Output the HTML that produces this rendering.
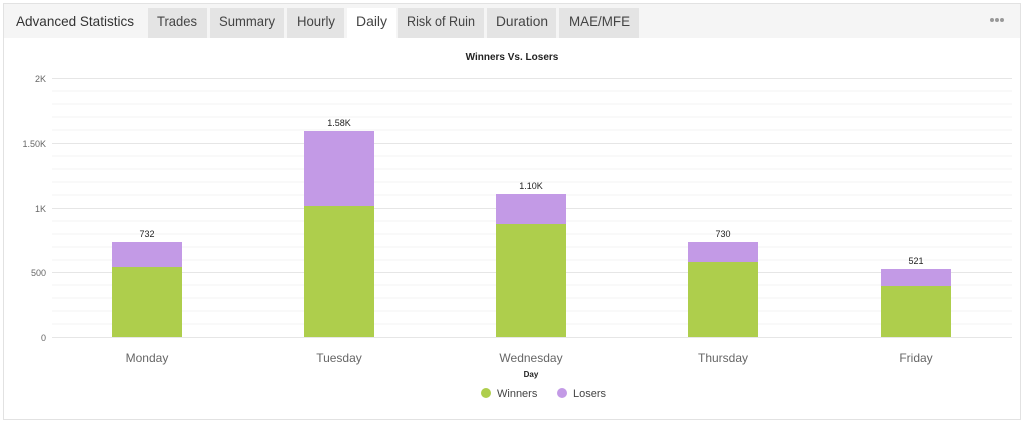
<!DOCTYPE html>
<html><head><style>
body{margin:0;background:#fff;width:1024px;height:423px;overflow:hidden;font-family:"Liberation Sans",sans-serif}
</style></head><body>
<svg width="1024" height="423" xmlns="http://www.w3.org/2000/svg" font-family="Liberation Sans, sans-serif">
<rect x="3.5" y="3.5" width="1017" height="416" fill="#fff" stroke="#e2e2e2"/>
<rect x="4" y="4" width="1016" height="34" fill="#f5f5f5"/>
<text x="16" y="26" font-size="14" fill="#333" textLength="118" lengthAdjust="spacingAndGlyphs">Advanced Statistics</text>
<g font-size="14" fill="#444">
<rect x="148" y="8" width="59" height="30" fill="#e4e4e4"/><text x="157" y="26" textLength="40" lengthAdjust="spacingAndGlyphs">Trades</text>
<rect x="210" y="8" width="74" height="30" fill="#e4e4e4"/><text x="219" y="26" textLength="56" lengthAdjust="spacingAndGlyphs">Summary</text>
<rect x="287" y="8" width="57" height="30" fill="#e4e4e4"/><text x="297" y="26" textLength="38" lengthAdjust="spacingAndGlyphs">Hourly</text>
<rect x="347" y="8" width="49" height="31" fill="#fff"/><text x="356" y="26" textLength="31" lengthAdjust="spacingAndGlyphs">Daily</text>
<rect x="398" y="8" width="86" height="30" fill="#e4e4e4"/><text x="407" y="26" textLength="68" lengthAdjust="spacingAndGlyphs">Risk of Ruin</text>
<rect x="487" y="8" width="69" height="30" fill="#e4e4e4"/><text x="496" y="26" textLength="52" lengthAdjust="spacingAndGlyphs">Duration</text>
<rect x="559" y="8" width="80" height="30" fill="#e4e4e4"/><text x="569" y="26" textLength="61" lengthAdjust="spacingAndGlyphs">MAE/MFE</text>
</g>
<g fill="#999"><circle cx="992" cy="20" r="2"/><circle cx="997" cy="20" r="2"/><circle cx="1002" cy="20" r="2"/></g>
<text x="512" y="60" font-size="10" font-weight="bold" text-anchor="middle" fill="#222">Winners Vs. Losers</text>
<g stroke="#f3f3f3" stroke-width="1">
<line x1="52" x2="1012" y1="91" y2="91"/><line x1="52" x2="1012" y1="104" y2="104"/><line x1="52" x2="1012" y1="117" y2="117"/><line x1="52" x2="1012" y1="130" y2="130"/>
<line x1="52" x2="1012" y1="156" y2="156"/><line x1="52" x2="1012" y1="169" y2="169"/><line x1="52" x2="1012" y1="182" y2="182"/><line x1="52" x2="1012" y1="195" y2="195"/>
<line x1="52" x2="1012" y1="221" y2="221"/><line x1="52" x2="1012" y1="234" y2="234"/><line x1="52" x2="1012" y1="247" y2="247"/><line x1="52" x2="1012" y1="260" y2="260"/>
<line x1="52" x2="1012" y1="285" y2="285"/><line x1="52" x2="1012" y1="298" y2="298"/><line x1="52" x2="1012" y1="311" y2="311"/><line x1="52" x2="1012" y1="324" y2="324"/>
</g>
<g stroke="#e6e6e6" stroke-width="1">
<line x1="52" x2="1012" y1="78.5" y2="78.5"/><line x1="52" x2="1012" y1="143.5" y2="143.5"/><line x1="52" x2="1012" y1="208.5" y2="208.5"/><line x1="52" x2="1012" y1="272.5" y2="272.5"/><line x1="52" x2="1012" y1="337.5" y2="337.5"/>
</g>
<g font-size="9" fill="#666" text-anchor="end">
<text x="46" y="82">2K</text><text x="46" y="147">1.50K</text><text x="46" y="212">1K</text><text x="46" y="276">500</text><text x="46" y="341">0</text>
</g>
<g>
<rect x="112" y="242" width="70" height="25" fill="#c39ae6"/><rect x="112" y="267" width="70" height="70" fill="#aece4c"/>
<rect x="304" y="131" width="70" height="75" fill="#c39ae6"/><rect x="304" y="206" width="70" height="131" fill="#aece4c"/>
<rect x="496" y="194" width="70" height="30" fill="#c39ae6"/><rect x="496" y="224" width="70" height="113" fill="#aece4c"/>
<rect x="688" y="242" width="70" height="20" fill="#c39ae6"/><rect x="688" y="262" width="70" height="75" fill="#aece4c"/>
<rect x="881" y="269" width="70" height="17" fill="#c39ae6"/><rect x="881" y="286" width="70" height="51" fill="#aece4c"/>
</g>
<g font-size="9" fill="#222" text-anchor="middle">
<text x="147" y="237">732</text><text x="339" y="126">1.58K</text><text x="531" y="189">1.10K</text><text x="723" y="237">730</text><text x="916" y="264">521</text>
</g>
<g font-size="12" fill="#666" text-anchor="middle">
<text x="147" y="362">Monday</text><text x="339" y="362">Tuesday</text><text x="531" y="362">Wednesday</text><text x="723" y="362">Thursday</text><text x="916" y="362">Friday</text>
</g>
<text x="531" y="377" font-size="8" font-weight="bold" text-anchor="middle" fill="#222">Day</text>
<circle cx="486" cy="393" r="5" fill="#aece4c"/><text x="497" y="397" font-size="11" fill="#444">Winners</text>
<circle cx="562" cy="393" r="5" fill="#c39ae6"/><text x="573" y="397" font-size="11" fill="#444">Losers</text>
</svg>
</body></html>
